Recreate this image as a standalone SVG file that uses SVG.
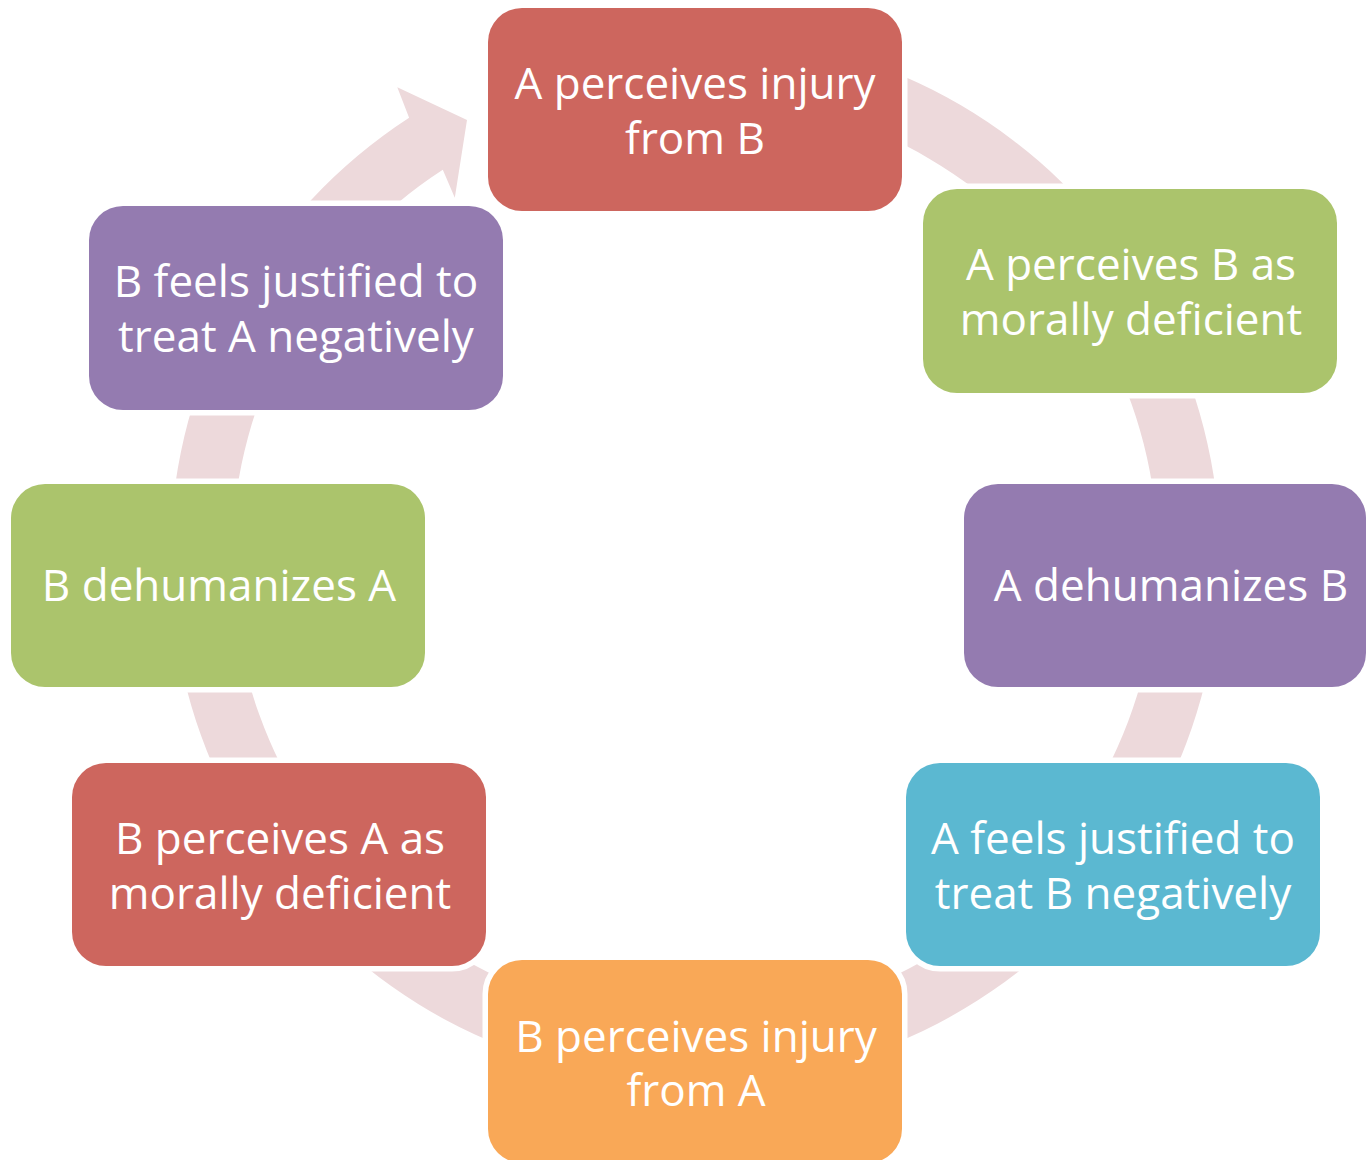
<svg xmlns="http://www.w3.org/2000/svg" width="1368" height="1160" viewBox="0 0 1368 1160">
<style>
.box { stroke:#ffffff; stroke-width:11; paint-order:stroke; }
.lbl { font-family:"Open Sans","Liberation Sans",sans-serif; font-size:44px; fill:#ffffff; text-anchor:middle; }
.red { fill:#CD665E; }
.green { fill:#ABC46C; }
.purple { fill:#947BB0; }
.blue { fill:#5BB8D1; }
.orange { fill:#F9A857; }
.ring { fill:#EDD9DB; stroke:none; }
</style>
<rect x="0" y="0" width="1368" height="1160" fill="#ffffff"/>
<g id="connectors">
  <path class="ring" d="M621.9,38.1 A525,525 0 1 1 409.1,117.7 L397.3,87.2 L467,120 L454.8,197.7 L442.8,169.7 A463,463 0 1 0 630.6,99.5 Z"/>
</g>
<g id="node1">
  <rect class="box red" x="488" y="8" width="414" height="203" rx="34"/>
  <text class="lbl" x="695" y="99">A perceives injury</text>
  <text class="lbl" x="695" y="154">from B</text>
</g>
<g id="node2">
  <rect class="box green" x="923" y="189" width="414" height="204" rx="34"/>
  <text class="lbl" x="1131" y="280">A perceives B as</text>
  <text class="lbl" x="1131" y="335">morally deficient</text>
</g>
<g id="node3">
  <rect class="box purple" x="964" y="484" width="402" height="203" rx="34"/>
  <text class="lbl" x="1171" y="601">A dehumanizes B</text>
</g>
<g id="node4">
  <rect class="box blue" x="906" y="763" width="414" height="203" rx="34"/>
  <text class="lbl" x="1113" y="854">A feels justified to</text>
  <text class="lbl" x="1113" y="909">treat B negatively</text>
</g>
<g id="node5">
  <rect class="box orange" x="488" y="960" width="414" height="203" rx="34"/>
  <text class="lbl" x="696" y="1052">B perceives injury</text>
  <text class="lbl" x="696" y="1106">from A</text>
</g>
<g id="node6">
  <rect class="box red" x="72" y="763" width="414" height="203" rx="34"/>
  <text class="lbl" x="280" y="854">B perceives A as</text>
  <text class="lbl" x="280" y="909">morally deficient</text>
</g>
<g id="node7">
  <rect class="box green" x="11" y="484" width="414" height="203" rx="34"/>
  <text class="lbl" x="219" y="601">B dehumanizes A</text>
</g>
<g id="node8">
  <rect class="box purple" x="89" y="206" width="414" height="204" rx="34"/>
  <text class="lbl" x="296" y="297">B feels justified to</text>
  <text class="lbl" x="296" y="352">treat A negatively</text>
</g>
</svg>
